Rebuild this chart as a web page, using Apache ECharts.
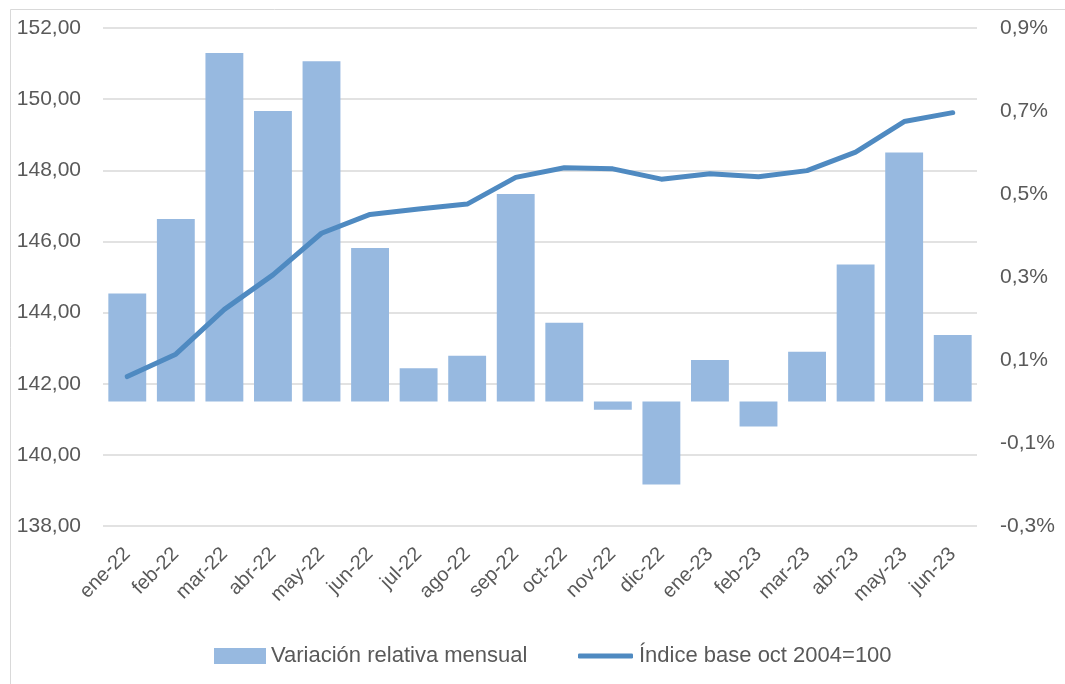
<!DOCTYPE html>
<html>
<head>
<meta charset="utf-8">
<script src="https://cdn.jsdelivr.net/npm/echarts@6/dist/echarts.min.js"></script>
<style>
html,body{margin:0;padding:0;background:#fff;}
#chart{width:1065px;height:684px;}
</style>
</head>
<body>
<div id="chart"></div>
<script>
const categories = ['ene-22','feb-22','mar-22','abr-22','may-22','jun-22','jul-22','ago-22','sep-22','oct-22','nov-22','dic-22','ene-23','feb-23','mar-23','abr-23','may-23','jun-23'];
const variacionMensual = [0.26,0.44,0.84,0.70,0.82,0.37,0.08,0.11,0.50,0.19,-0.02,-0.20,0.10,-0.06,0.12,0.33,0.60,0.16];
const indiceBase = [142.20,142.83,144.09,145.06,146.23,146.76,146.91,147.05,147.80,148.07,148.04,147.75,147.90,147.82,147.99,148.51,149.37,149.62];
const barName = 'Variación relativa mensual';
const lineName = 'Índice base oct 2004=100';

const FONT = 'Liberation Sans';
const TXT = '#595959';

const chart = echarts.init(document.getElementById('chart'), null, {renderer:'canvas'});
chart.setOption({
  backgroundColor: '#fff',
  animation: false,
  textStyle: {fontFamily: FONT, color: TXT},
  graphic: [{
    type: 'rect', silent: true, z: -1,
    shape: {x: 10.5, y: 9.5, width: 1100, height: 700},
    style: {fill: 'none', stroke: '#d9d9d9', lineWidth: 1}
  }],
  grid: {left: 103, right: 88, top: 28, bottom: 158, containLabel: false},
  legend: [{
    left: 209, top: 640,
    itemWidth: 52, itemHeight: 16, itemGap: 5,
    textStyle: {fontFamily: FONT, fontSize: 22, color: TXT},
    data: [{name: barName, icon: 'rect'}]
  }, {
    left: 573, top: 640,
    itemWidth: 55, itemHeight: 5,
    textStyle: {fontFamily: FONT, fontSize: 22, color: TXT, padding: [0, 0, 0, 1]},
    itemStyle: {color: '#4f8ac1'},
    data: [{name: lineName, icon: 'roundRect'}]
  }],
  xAxis: {
    type: 'category',
    data: categories,
    position: 'bottom',
    axisLine: {show: false, onZero: false},
    axisTick: {show: false},
    axisLabel: {rotate: 45, margin: 25, fontFamily: FONT, fontSize: 20, color: TXT, interval: 0}
  },
  yAxis: [{
    type: 'value',
    min: 138, max: 152, interval: 2,
    axisLine: {show: false},
    axisTick: {show: false},
    splitLine: {lineStyle: {color: '#d9d9d9', width: 1.5}},
    axisLabel: {margin: 22, fontFamily: FONT, fontSize: 21, color: TXT,
      formatter: v => v.toFixed(2).replace('.', ',')}
  }, {
    type: 'value',
    min: -0.3, max: 0.9, interval: 0.2,
    axisLine: {show: false},
    axisTick: {show: false},
    splitLine: {show: false},
    axisLabel: {margin: 23, fontFamily: FONT, fontSize: 21, color: TXT,
      formatter: v => v.toFixed(1).replace('.', ',') + '%'}
  }],
  series: [{
    name: barName,
    type: 'bar',
    yAxisIndex: 1,
    data: variacionMensual,
    barCategoryGap: '22%',
    itemStyle: {color: '#97b9e0'}
  }, {
    name: lineName,
    type: 'line',
    yAxisIndex: 0,
    data: indiceBase,
    symbol: 'none',
    lineStyle: {color: '#4f8ac1', width: 5, cap: 'round', join: 'round'},
    itemStyle: {color: '#4f8ac1'},
    z: 3
  }]
});
</script>
</body>
</html>
